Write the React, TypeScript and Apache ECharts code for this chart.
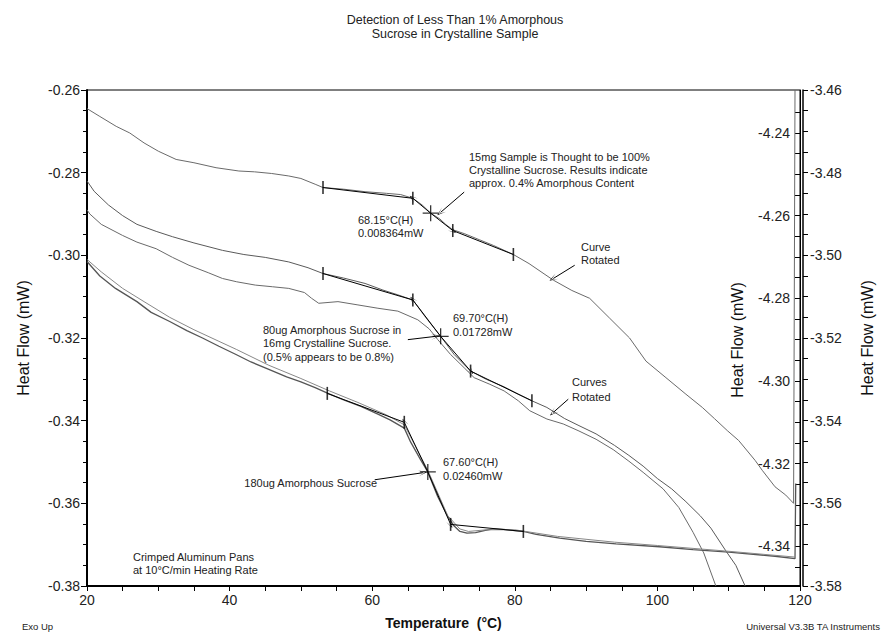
import React, { useEffect, useRef } from 'react';
import * as echarts from 'echarts';

// Axis ranges and tick labels
const X_MIN = 20;
const X_MAX = 120;
const LEFT_MIN = -0.38;
const LEFT_MAX = -0.26;
const OUTER_MIN = -3.58;
const OUTER_MAX = -3.46;
const INNER_MIN = -4.3496;
const INNER_MAX = -4.2296;
const innerLabelValues = [-4.24, -4.26, -4.28, -4.3, -4.32, -4.34];
const innerTickValues = [
  -4.235, -4.24, -4.245, -4.25, -4.255, -4.26, -4.265, -4.27, -4.275, -4.28, -4.285, -4.29,
  -4.295, -4.3, -4.305, -4.31, -4.315, -4.32, -4.325, -4.33, -4.335, -4.34, -4.345,
];

// Curves, read in left-axis units (mW) against temperature (°C)
const curve15mg: [number, number][] = [
  [20, -0.2645], [21.8, -0.2664], [24.1, -0.2688], [26, -0.2704], [28, -0.2728], [30, -0.2748],
  [32.5, -0.2768], [35, -0.2776], [38.1, -0.2788], [41.3, -0.2796], [43.5, -0.2798], [45.9, -0.2802],
  [48.3, -0.2808], [50, -0.2814], [52, -0.2828], [53.1, -0.2836], [56, -0.284], [59, -0.2846],
  [62, -0.285], [64, -0.2853], [65.7, -0.2862], [67, -0.2878], [68.2, -0.2898], [69.5, -0.2912],
  [70.3, -0.2925], [71.3, -0.2938], [73, -0.2948], [75, -0.2962], [77, -0.2976], [79.8, -0.2998],
  [82, -0.302], [85.4, -0.306], [88, -0.3085], [90.5, -0.3104], [93.3, -0.3152], [96.1, -0.32],
  [98.4, -0.3256], [101.2, -0.3296], [104, -0.3336], [106.3, -0.3368], [108, -0.3395],
  [109.8, -0.3424], [111.4, -0.3448], [113.7, -0.3496], [114.7, -0.352], [116.5, -0.356],
  [118, -0.358], [119.1, -0.36], [119.3, -0.26],
];
const curve80ugA: [number, number][] = [
  [20, -0.282], [21, -0.2845], [23, -0.2878], [25, -0.2904], [27, -0.2925], [29.7, -0.2942],
  [32, -0.2955], [35, -0.297], [39, -0.2988], [42, -0.2998], [45, -0.3005], [48.3, -0.3016],
  [51, -0.303], [53.1, -0.3044], [56, -0.3055], [59, -0.3068], [61.5, -0.3084], [63.5, -0.3095],
  [65.7, -0.3108], [67.5, -0.315], [69.6, -0.3196], [71.5, -0.324], [73.8, -0.328], [76, -0.33],
  [78.5, -0.3318], [80.5, -0.3336], [82.4, -0.3352], [84.5, -0.3368], [87, -0.3395], [89, -0.3412],
  [91.4, -0.3432], [94, -0.346], [96, -0.3484], [98, -0.351], [100, -0.354], [102, -0.3565],
  [104, -0.3596], [106, -0.363], [107.5, -0.366], [109.6, -0.3715], [111, -0.375], [112.3, -0.38],
];
const curve80ugB: [number, number][] = [
  [20, -0.289], [20.4, -0.29], [22, -0.2925], [25, -0.2952], [27, -0.2968], [29.7, -0.2984],
  [32, -0.3005], [34.3, -0.3024], [37, -0.3042], [39, -0.3056], [41, -0.3064], [43.6, -0.3072],
  [46, -0.3076], [48.3, -0.308], [50.5, -0.309], [51.5, -0.3104], [52.5, -0.3116], [55.2, -0.3112],
  [58, -0.312], [60.8, -0.3128], [63.6, -0.3135], [66.4, -0.3156], [68, -0.3178], [69.2, -0.3204],
  [71, -0.324], [72.9, -0.3272], [74.3, -0.3296], [76.5, -0.3312], [78.5, -0.3328], [80.5, -0.3352],
  [82.1, -0.3376], [84.5, -0.3396], [86.8, -0.3408], [89, -0.3425], [91.4, -0.3445], [93.8, -0.347],
  [96, -0.3498], [98, -0.3525], [100.8, -0.3565], [103, -0.361], [105, -0.367], [106.5, -0.372],
  [108.2, -0.38],
];
const curve180ugA: [number, number][] = [
  [20, -0.3015], [21.8, -0.305], [24, -0.308], [27, -0.3112], [29, -0.3138], [31.6, -0.316],
  [34, -0.3182], [36.2, -0.32], [38.5, -0.322], [40.9, -0.324], [43, -0.3258], [45.5, -0.3276],
  [48, -0.3294], [50, -0.3306], [52, -0.332], [53.8, -0.3334], [56, -0.335], [58.5, -0.3366],
  [60.8, -0.3384], [62.5, -0.3398], [64.5, -0.3418], [65.4, -0.3452], [66.8, -0.3495],
  [67.8, -0.3524], [69.2, -0.3584], [70.6, -0.3632], [71.5, -0.3655], [72.3, -0.3668],
  [73.3, -0.3672], [74.5, -0.3671], [75.7, -0.3666], [77, -0.3662], [78.4, -0.3663], [80, -0.3666],
  [81.2, -0.3668], [83, -0.3675], [86.3, -0.3684], [90, -0.3692], [94.2, -0.3698], [100.3, -0.3705],
  [105, -0.3712], [110, -0.3718], [116.5, -0.3728], [119.3, -0.3734], [119.4, -0.3552],
];
const curve180ugB: [number, number][] = [
  [20, -0.301], [22, -0.304], [25, -0.308], [28, -0.3112], [31.6, -0.315], [35, -0.318],
  [38.5, -0.3208], [41, -0.3228], [45.5, -0.3266], [50, -0.3298], [54, -0.3328], [58, -0.3356],
  [62, -0.3386], [64.5, -0.341], [66, -0.346], [67.8, -0.352], [70.6, -0.363], [72.3, -0.3662],
  [73.5, -0.3668], [76, -0.3664], [80, -0.3664], [86, -0.368], [94, -0.3694], [100, -0.3702],
  [110, -0.3716], [119.3, -0.373],
];

// Analysis marks: tangent points and onset crosses
const ticks15mg: [number, number][] = [[53.1, -0.2836], [65.7, -0.2862], [71.3, -0.294], [79.8, -0.2998]];
const onset15mg: [number, number] = [68.2, -0.2898];
const ticks80ug: [number, number][] = [[53.1, -0.3044], [65.7, -0.3108], [73.8, -0.328], [82.4, -0.3352]];
const onset80ug: [number, number] = [69.6, -0.3196];
const ticks180ug: [number, number][] = [[53.7, -0.3334], [64.5, -0.3404], [71, -0.3651], [81.2, -0.3668]];
const onset180ug: [number, number] = [67.8, -0.3524];

// Callout arrows: [from, to]
const callouts: [[number, number], [number, number]][] = [
  [[72.9, -0.2847], [69.6, -0.2896]],
  [[88.4, -0.3024], [85.4, -0.3056]],
  [[65.0, -0.3204], [68.9, -0.3196]],
  [[87.5, -0.3348], [85.4, -0.338]],
  [[60.35, -0.3543], [67.1, -0.3526]],
];

const FONT = '"Liberation Sans", Arial, Helvetica, sans-serif';
const ARROW = 'path://M0,10L5,0L10,10L5,2Z';
const TICK_COLOR = '#000';

function analysisLines(ticks: [number, number][], onset: [number, number]) {
  return [
    [{ coord: ticks[0], symbol: 'none' }, { coord: ticks[1], symbol: 'none' }],
    [{ coord: ticks[2], symbol: 'none' }, { coord: ticks[3], symbol: 'none' }],
    [{ coord: onset, symbol: 'none' }, { coord: ticks[1], symbol: ARROW, symbolSize: [6, 8] }],
    [{ coord: onset, symbol: 'none' }, { coord: ticks[2], symbol: ARROW, symbolSize: [6, 8] }],
  ];
}

function curve(name: string, data: [number, number][], color: string, width: number) {
  return {
    type: 'line',
    name,
    data,
    yAxisIndex: 0,
    showSymbol: false,
    symbol: 'none',
    silent: true,
    lineStyle: { color, width },
    z: 2,
  };
}

function text(t: string, x: number, y: number, align = 'left', size = 11) {
  return {
    type: 'text',
    x,
    y,
    silent: true,
    style: { text: t, fill: '#222', fontSize: size, fontFamily: FONT, align, verticalAlign: 'middle' },
  };
}

const labelStyle = { color: '#222', fontSize: 14, fontFamily: FONT };

const option: any = {
  animation: false,
  backgroundColor: '#fff',
  grid: { left: 87, right: 78, top: 90, bottom: 45, show: true, borderColor: '#000', borderWidth: 1, containLabel: false },
  xAxis: {
    type: 'value',
    min: X_MIN,
    max: X_MAX,
    interval: 20,
    name: 'Temperature  (°C)',
    nameLocation: 'middle',
    nameGap: 30,
    nameTextStyle: { fontSize: 14, fontWeight: 'bold', color: '#111', fontFamily: FONT },
    axisLine: { show: true, onZero: false, lineStyle: { color: '#000', width: 2 } },
    axisTick: { show: true, length: 5, lineStyle: { color: '#000' } },
    minorTick: { show: true, splitNumber: 4, length: 5, lineStyle: { color: '#000' } },
    splitLine: { show: false },
    axisLabel: { ...labelStyle, margin: 7 },
  },
  yAxis: [
    {
      type: 'value',
      position: 'left',
      min: LEFT_MIN,
      max: LEFT_MAX,
      interval: 0.02,
      name: 'Heat Flow (mW)',
      nameLocation: 'middle',
      nameGap: 56,
      nameTextStyle: { fontSize: 16, color: '#111', fontFamily: FONT },
      axisLine: { show: true, onZero: false, lineStyle: { color: '#000', width: 2 } },
      axisTick: { show: true, length: 6, lineStyle: { color: '#000' } },
      minorTick: { show: true, splitNumber: 4, length: 4, lineStyle: { color: '#000' } },
      splitLine: { show: false },
      axisLabel: { ...labelStyle, margin: 7, formatter: (v: number) => v.toFixed(2) },
    },
    {
      type: 'value',
      position: 'right',
      offset: 0,
      min: INNER_MIN,
      max: INNER_MAX,
      axisLine: { show: true, onZero: false, lineStyle: { color: '#000', width: 1 } },
      axisTick: { show: true, inside: true, length: 5, customValues: innerTickValues, lineStyle: { color: '#000' } },
      splitLine: { show: false },
      axisLabel: {
        ...labelStyle,
        inside: true,
        margin: 10,
        customValues: innerLabelValues,
        formatter: (v: number) => v.toFixed(2),
      },
    },
    {
      type: 'value',
      position: 'right',
      offset: 3,
      min: OUTER_MIN,
      max: OUTER_MAX,
      interval: 0.02,
      name: 'Heat Flow (mW)',
      nameLocation: 'middle',
      nameGap: 56,
      nameTextStyle: { fontSize: 16, color: '#111', fontFamily: FONT },
      axisLine: { show: true, onZero: false, lineStyle: { color: '#000', width: 1.5 } },
      axisTick: { show: true, length: 5, lineStyle: { color: '#000' } },
      minorTick: { show: true, splitNumber: 4, length: 5, lineStyle: { color: '#000' } },
      splitLine: { show: false },
      axisLabel: { ...labelStyle, margin: 7, formatter: (v: number) => v.toFixed(2) },
    },
  ],
  series: [
    curve('15mg crystalline', curve15mg, '#6a6a6a', 1),
    curve('80ug in 16mg run 1', curve80ugA, '#5a5a5a', 1),
    curve('80ug in 16mg run 2', curve80ugB, '#6a6a6a', 1),
    curve('180ug amorphous run 1', curve180ugA, '#555', 1.3),
    curve('180ug amorphous run 2', curve180ugB, '#888', 1),
    {
      type: 'scatter',
      name: 'tangent points',
      data: [...ticks15mg, ...ticks80ug, ...ticks180ug],
      symbol: 'rect',
      symbolSize: [1.6, 13],
      itemStyle: { color: TICK_COLOR },
      silent: true,
      z: 5,
      markLine: {
        silent: true,
        symbol: ['none', 'none'],
        label: { show: false },
        lineStyle: { color: '#000', width: 1, type: 'solid' },
        data: [
          ...analysisLines(ticks15mg, onset15mg),
          ...analysisLines(ticks80ug, onset80ug),
          ...analysisLines(ticks180ug, onset180ug),
          ...callouts.map(([a, b]) => [
            { coord: a, symbol: 'none' },
            { coord: b, symbol: ARROW, symbolSize: [6, 9] },
          ]),
        ],
      },
    },
    {
      type: 'scatter',
      name: 'onsets',
      data: [onset15mg, onset80ug, onset180ug],
      symbol: 'path://M9.2,0H10.8V9.2H20V10.8H10.8V20H9.2V10.8H0V9.2H9.2Z',
      symbolSize: 16,
      itemStyle: { color: TICK_COLOR },
      silent: true,
      z: 6,
    },
  ],
  graphic: [
    text('Detection of Less Than 1% Amorphous', 455, 20, 'center', 12.5),
    text('Sucrose in Crystalline Sample', 455, 34, 'center', 12.5),
    text('15mg Sample is Thought to be 100%', 469, 157),
    text('Crystalline Sucrose. Results indicate', 469, 170),
    text('approx. 0.4% Amorphous Content', 469, 183),
    text('68.15°C(H)', 358, 220),
    text('0.008364mW', 358, 233),
    text('Curve', 581, 247),
    text('Rotated', 581, 260),
    text('69.70°C(H)', 453, 318),
    text('0.01728mW', 453, 332),
    text('80ug Amorphous Sucrose in', 263, 330),
    text('16mg Crystalline Sucrose.', 263, 343),
    text('(0.5% appears to be 0.8%)', 263, 357),
    text('Curves', 572, 382),
    text('Rotated', 572, 397),
    text('67.60°C(H)', 443, 462),
    text('0.02460mW', 443, 476),
    text('180ug Amorphous Sucrose', 377, 483, 'right'),
    text('Crimped Aluminum Pans', 133, 557),
    text('at 10°C/min Heating Rate', 133, 570),
    text('Exo Up', 22, 626, 'left', 9.5),
    text('Universal V3.3B TA Instruments', 880, 626, 'right', 9.5),
    {
      type: 'text',
      x: 737,
      y: 340,
      rotation: Math.PI / 2,
      silent: true,
      style: { text: 'Heat Flow (mW)', fill: '#111', fontSize: 16, fontFamily: FONT, align: 'center', verticalAlign: 'middle' },
    },
  ],
};

export default function App() {
  const ref = useRef<HTMLDivElement>(null);
  useEffect(() => {
    if (!ref.current) return;
    const chart = echarts.init(ref.current, null, { renderer: 'svg' });
    chart.setOption(option);
    return () => chart.dispose();
  }, []);
  return (
    <div
      ref={ref}
      style={{ position: 'fixed', left: 0, top: 0, width: 883, height: 635, background: '#fff' }}
    />
  );
}
